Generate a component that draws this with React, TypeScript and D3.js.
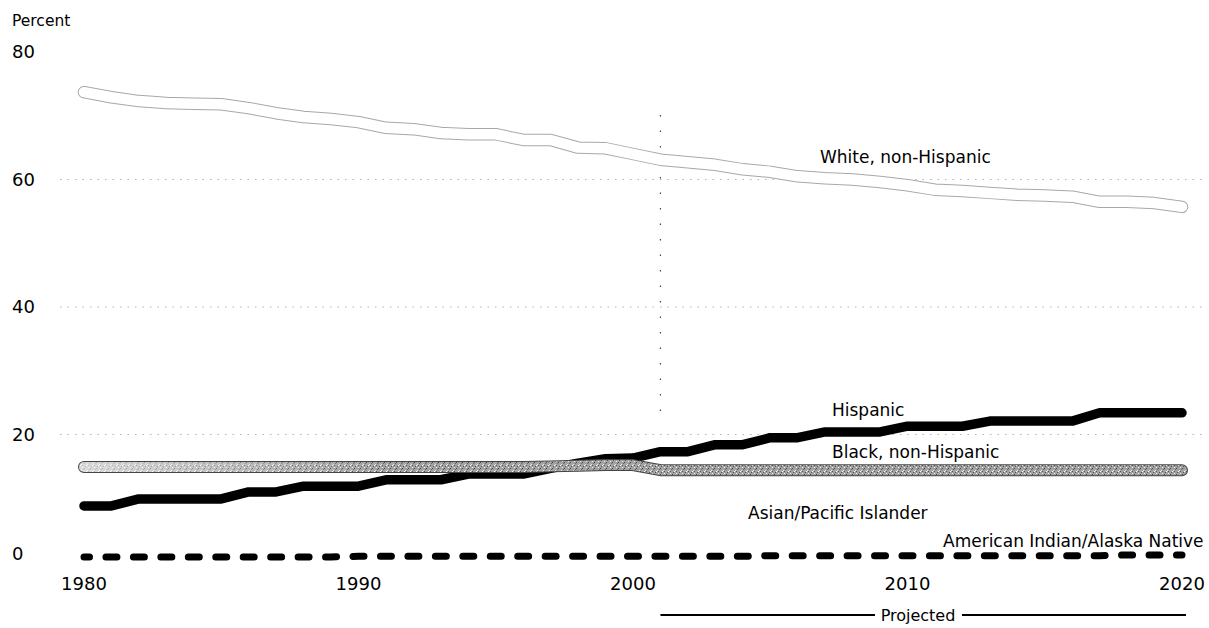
import * as React from 'react';
import * as d3 from 'd3';

// years 1980-2020, projections from 2001 on
const years = d3.range(1980, 2021);
const projectedFrom = 2001;

const whiteNH = [
  73.7, 72.9, 72.3, 72.0, 71.9, 71.8, 71.2, 70.4, 69.8, 69.5,
  69.0, 68.1, 67.9, 67.3, 67.1, 67.1, 66.2, 66.2, 65.0, 64.9,
  64.0, 63.1, 62.7, 62.3, 61.6, 61.2, 60.5, 60.2, 60.0, 59.6,
  59.1, 58.4, 58.2, 57.9, 57.6, 57.5, 57.3, 56.5, 56.5, 56.3,
  55.7,
];
const hispanic = [
  8.8, 8.8, 9.9, 9.9, 9.9, 9.9, 11.0, 11.0, 11.9, 11.9,
  11.9, 12.9, 12.9, 12.9, 13.8, 13.8, 13.8, 14.7, 15.5, 16.2,
  16.3, 17.3, 17.3, 18.4, 18.4, 19.5, 19.5, 20.4, 20.4, 20.4,
  21.3, 21.3, 21.3, 22.1, 22.1, 22.1, 22.1, 23.4, 23.4, 23.4,
  23.4,
];
const blackNH = [
  14.9, 14.9, 14.9, 14.9, 14.9, 14.9, 14.9, 14.9, 14.9, 14.9,
  14.9, 14.9, 14.9, 14.9, 14.9, 14.9, 14.9, 15.0, 15.1, 15.2,
  15.2, 14.4, 14.4, 14.4, 14.4, 14.4, 14.4, 14.4, 14.4, 14.4,
  14.4, 14.4, 14.4, 14.4, 14.4, 14.4, 14.4, 14.4, 14.4, 14.4,
  14.4,
];
const asianPI = [
  1.7, 1.9, 2.0, 2.1, 2.3, 2.4, 2.5, 2.7, 2.8, 3.0,
  3.1, 3.2, 3.3, 3.4, 3.5, 3.6, 3.7, 3.8, 3.9, 3.9,
  4.0, 4.1, 4.2, 4.3, 4.4, 4.5, 4.7, 4.8, 4.9, 5.0,
  5.2, 5.3, 5.4, 5.6, 5.7, 5.9, 6.0, 6.1, 6.3, 6.4,
  6.6,
];
const amIndian = [
  0.8, 0.8, 0.8, 0.8, 0.8, 0.8, 0.8, 0.8, 0.8, 0.8,
  0.9, 0.9, 0.9, 0.9, 0.9, 0.9, 0.9, 0.9, 0.9, 0.9,
  0.9, 0.9, 0.9, 0.9, 0.9, 1.0, 1.0, 1.0, 1.0, 1.0,
  1.0, 1.0, 1.0, 1.0, 1.0, 1.0, 1.0, 1.0, 1.1, 1.1,
  1.1,
];

const xTicks = [1980, 1990, 2000, 2010, 2020];
const yTicks = [0, 20, 40, 60, 80];
const gridValues = [20, 40, 60];

const W = 1209;
const H = 628;
const FONT = '"DejaVu Sans", Verdana, sans-serif';

export default function App() {
  const x = d3.scaleLinear().domain([1980, 2020]).range([84, 1182]);
  const y = d3.scaleLinear().domain([0, 80]).range([562, 52]);

  const line = (vals: number[]) =>
    d3.line<number>()
      .x((_, i) => x(years[i]))
      .y((d) => y(d))
      .curve(d3.curveLinear)(vals) || '';

  const perYear = x(1981) - x(1980);

  return (
    <svg width={W} height={H} style={{ position: 'absolute', left: 0, top: 0, background: '#fff' }}
      fontFamily={FONT}>
      <defs>
        <pattern id="stip" width="6" height="6" patternUnits="userSpaceOnUse">
          <rect width="6" height="6" fill="#a2a2a2" />
          <rect x="0" y="0" width="1" height="1" fill="#444" />
          <rect x="3" y="2" width="1" height="1" fill="#e6e6e6" />
          <rect x="1" y="4" width="1" height="1" fill="#555" />
          <rect x="4" y="5" width="1" height="1" fill="#eee" />
          <rect x="5" y="1" width="1" height="1" fill="#666" />
          <rect x="2" y="3" width="1" height="1" fill="#fff" />
          <rect x="4" y="3" width="1" height="1" fill="#555" />
        </pattern>
        <linearGradient id="fade" gradientUnits="userSpaceOnUse" x1={x(1980)} x2={x(1991)} y1="0" y2="0">
          <stop offset="0" stopColor="#fff" stopOpacity="0.6" />
          <stop offset="1" stopColor="#fff" stopOpacity="0" />
        </linearGradient>
      </defs>

      {/* y label + ticks */}
      <text x={12} y={26} fontSize={15.5}>Percent</text>
      {yTicks.map((t) => (
        <text key={t} x={12} y={y(t) - (t === 0 ? 8 : 0)} dy="0.35em" fontSize={18}>{t}</text>
      ))}

      {/* grid */}
      {gridValues.map((g) => (
        <line key={g} x1={60} x2={1205} y1={y(g)} y2={y(g)}
          stroke="#777" strokeWidth={1} strokeDasharray="1.5 6" opacity={0.55} />
      ))}

      {/* projection divider */}
      <line x1={x(projectedFrom)} x2={x(projectedFrom)} y1={115} y2={415}
        stroke="#444" strokeWidth={1.2} strokeDasharray="1.5 14" />

      {/* White, non-Hispanic: outlined band */}
      <path d={line(whiteNH)} fill="none" stroke="#a8a8a8" strokeWidth={12.5}
        strokeLinecap="round" strokeLinejoin="round" />
      <path d={line(whiteNH)} fill="none" stroke="#fff" strokeWidth={10.5}
        strokeLinecap="round" strokeLinejoin="round" />

      {/* Asian/Pacific Islander: white line */}
      <path d={line(asianPI)} fill="none" stroke="#fff" strokeWidth={10}
        strokeLinecap="round" strokeLinejoin="round" />

      {/* Hispanic */}
      <path d={line(hispanic)} fill="none" stroke="#000" strokeWidth={9.5}
        strokeLinecap="round" strokeLinejoin="round" />

      {/* Black, non-Hispanic: stippled band */}
      <path d={line(blackNH)} fill="none" stroke="#444" strokeWidth={12}
        strokeLinecap="round" strokeLinejoin="round" />
      <path d={line(blackNH)} fill="none" stroke="url(#stip)" strokeWidth={10}
        strokeLinecap="round" strokeLinejoin="round" />
      <path d={line(blackNH)} fill="none" stroke="url(#fade)" strokeWidth={10}
        strokeLinecap="round" strokeLinejoin="round" />

      {/* American Indian/Alaska Native: dashed */}
      <path d={line(amIndian)} fill="none" stroke="#000" strokeWidth={7}
        strokeLinecap="round"
        strokeDasharray={`${perYear * 0.4} ${perYear * 0.6}`}
        strokeDashoffset={perYear * 0.2} />

      {/* series labels */}
      <g fontSize={17}>
        <text x={820} y={157} dy="0.35em">White, non-Hispanic</text>
        <text x={832} y={410} dy="0.35em">Hispanic</text>
        <text x={832} y={452} dy="0.35em">Black, non-Hispanic</text>
        <text x={748} y={513} dy="0.35em">Asian/Pacific Islander</text>
        <text x={943} y={541} dy="0.35em">American Indian/Alaska Native</text>
      </g>

      {/* x ticks */}
      {xTicks.map((t) => (
        <text key={t} x={x(t)} y={584} dy="0.35em" textAnchor="middle" fontSize={18}>{t}</text>
      ))}

      {/* projected bracket */}
      <line x1={x(projectedFrom)} x2={875} y1={615} y2={615} stroke="#000" strokeWidth={2} />
      <text x={918} y={615} dy="0.35em" textAnchor="middle" fontSize={16}>Projected</text>
      <line x1={962} x2={1186} y1={615} y2={615} stroke="#000" strokeWidth={2} />
    </svg>
  );
}
